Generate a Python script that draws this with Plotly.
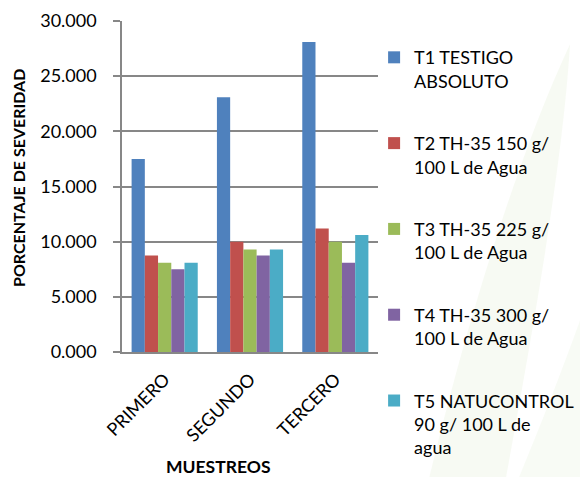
import plotly.graph_objects as go

categories = ["PRIMERO", "SEGUNDO", "TERCERO"]
series_names = [
    "T1 TESTIGO<br>ABSOLUTO",
    "T2 TH-35 150 g/<br>100 L de Agua",
    "T3 TH-35 225 g/<br>100 L de Agua",
    "T4 TH-35 300 g/<br>100 L de Agua",
    "T5 NATUCONTROL<br>90 g/ 100 L de<br>agua",
]
t1 = [17.5, 23.1, 28.1]
t2 = [8.75, 10.0, 11.2]
t3 = [8.1, 9.3, 10.0]
t4 = [7.5, 8.75, 8.1]
t5 = [8.1, 9.3, 10.6]
series_values = [t1, t2, t3, t4, t5]
colors = ["#4F81BD", "#C0504D", "#9BBB59", "#8064A2", "#4BACC6"]
y_ticks = [0, 5, 10, 15, 20, 25, 30]

FONT = "Lato, Carlito, Calibri, sans-serif"
GRID = "#878787"

fig = go.Figure()
for i, (name, vals, col) in enumerate(zip(series_names, series_values, colors)):
    fig.add_trace(go.Bar(
        x=categories, y=vals, name=name, legendgroup=f"g{i}",
        marker=dict(color=col, line=dict(width=0)),
    ))

# faint decorative leaf watermark in the background
fig.add_shape(type="path", xref="paper", yref="paper", layer="below",
              path="M 1.2,-0.38 C 1.35,0.1 1.55,0.6 1.75,0.93 C 1.72,0.55 1.6,0.05 1.5,-0.38 Z",
              fillcolor="rgba(190,220,160,0.13)", line=dict(width=0))
fig.add_shape(type="path", xref="paper", yref="paper", layer="below",
              path="M 1.55,-0.38 C 1.7,-0.1 1.82,0.15 1.9,0.35 L 1.9,-0.38 Z",
              fillcolor="rgba(190,220,160,0.11)", line=dict(width=0))

fig.update_layout(
    width=580, height=477,
    margin=dict(l=122, r=202, t=21, b=125, autoexpand=False),
    paper_bgcolor="white", plot_bgcolor="rgba(0,0,0,0)",
    barmode="group", bargap=0.225, bargroupgap=0,
    font=dict(family=FONT, size=18, color="#000000"),
    showlegend=True,
    legend=dict(x=0.645, xref="container", xanchor="left",
                y=0.918, yref="container", yanchor="top",
                valign="top", tracegroupgap=36, maxheight=600,
                font=dict(family=FONT, size=18, color="#000000"),
                bgcolor="rgba(0,0,0,0)"),
    xaxis=dict(showline=True, linecolor=GRID, linewidth=1.5, ticks="",
               tickangle=-45, tickfont=dict(size=18), showgrid=False,
               ticklabelstandoff=8),
    yaxis=dict(range=[0, 30], tickvals=y_ticks, tickformat=".3f",
               showgrid=True, gridcolor=GRID, gridwidth=1.5,
               showline=True, linecolor=GRID, linewidth=1.5,
               ticks="outside", ticklen=7, tickcolor=GRID, tickwidth=1.5,
               zeroline=False, tickfont=dict(size=18),
               ticklabelstandoff=13),
    annotations=[
        dict(text="<b>PORCENTAJE DE SEVERIDAD</b>", xref="paper", yref="paper",
             x=-0.402, y=0.526, xanchor="center", yanchor="middle",
             textangle=-90, showarrow=False,
             font=dict(family=FONT, size=16)),
        dict(text="<b>MUESTREOS</b>", xref="paper", yref="paper",
             x=0.375, y=-0.347, xanchor="center", yanchor="middle",
             showarrow=False,
             font=dict(family=FONT, size=17.5)),
    ],
)

fig.write_html("out.html")
